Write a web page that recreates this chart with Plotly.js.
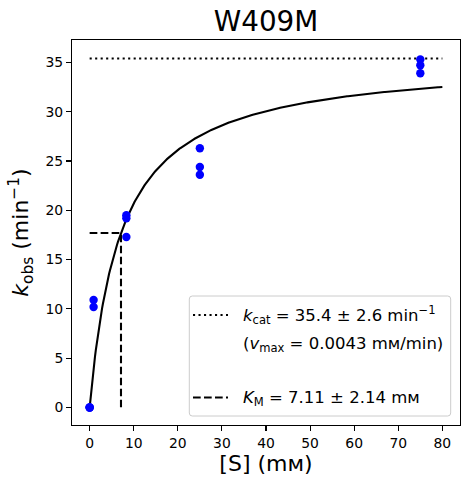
<!DOCTYPE html>
<html>
<head>
<meta charset="utf-8">
<script src="https://cdn.plot.ly/plotly-3.0.1.min.js"></script>
<style>html,body{margin:0;padding:0;background:#fff;}#chart{width:469px;height:484px;}</style>
</head>
<body>
<div id="chart"></div>
<script>
// ---- data ----
const substrate = [0, 0, 0, 0.9, 0.9, 8.33, 8.33, 8.33, 25, 25, 25, 75, 75, 75];
const kobs = [0, 0, 0, 10.9, 10.2, 19.5, 19.2, 17.3, 26.3, 24.4, 23.6, 35.3, 34.7, 33.9];
const kcat = 35.4;
const KM = 7.11;
const xTicks = [0, 10, 20, 30, 40, 50, 60, 70, 80];
const yTicks = [0, 5, 10, 15, 20, 25, 30, 35];
const legendLabels = [
  "<i>k</i><sub>cat</sub> = 35.4 ± 2.6 min<sup>−1</sup>",
  "(<i>v</i><sub>max</sub> = 0.0043 mᴍ/min)",
  "<i>K</i><sub>M</sub> = 7.11 ± 2.14 mᴍ"
];

// Michaelis–Menten fit curve from the fitted parameters
const fitS = [];
const fitK = [];
for (let i = 0; i <= 400; i++) {
  const s = 80 * i / 400;
  fitS.push(s);
  fitK.push(kcat * s / (KM + s));
}

const W = 469, H = 484;
const ml = 72, mr = 9, mt = 40, mb = 59;
const pw = W - ml - mr, ph = H - mt - mb;
const px = x => (x - ml) / pw;
const py = y => 1 - (y - mt) / ph;

const font = "DejaVu Sans, sans-serif";
const lw = 2.08;
const dotDash = "2.1px,3.4px";
const dashDash = "7.7px,3.3px";

const traces = [
  {x: fitS, y: fitK, mode: "lines", line: {color: "black", width: lw}, hoverinfo: "skip"},
  {x: [0, 80], y: [kcat, kcat], mode: "lines", line: {color: "black", width: lw, dash: dotDash}},
  {x: [0, KM, KM], y: [kcat / 2, kcat / 2, 0], mode: "lines", line: {color: "black", width: lw, dash: dashDash}},
  {x: substrate, y: kobs, mode: "markers", marker: {color: "#0000ff", size: 8.4}}
];

// custom legend (matplotlib style)
const bx0 = px(189.3), bx1 = px(450.7), by0 = py(416), by1 = py(296);
const rx = 3 / pw, ry = 3 / ph;
const boxPath = `M ${bx0 + rx},${by1} L ${bx1 - rx},${by1} Q ${bx1},${by1} ${bx1},${by1 - ry} L ${bx1},${by0 + ry} Q ${bx1},${by0} ${bx1 - rx},${by0} L ${bx0 + rx},${by0} Q ${bx0},${by0} ${bx0},${by0 + ry} L ${bx0},${by1 - ry} Q ${bx0},${by1} ${bx0 + rx},${by1} Z`;

const shapes = [
  {type: "path", xref: "paper", yref: "paper", path: boxPath,
   fillcolor: "rgba(255,255,255,0.8)", line: {color: "#cccccc", width: 1}},
  {type: "line", xref: "paper", yref: "paper", x0: px(193), x1: px(228), y0: py(315), y1: py(315),
   line: {color: "black", width: lw, dash: dotDash}},
  {type: "line", xref: "paper", yref: "paper", x0: px(193), x1: px(228), y0: py(397.5), y1: py(397.5),
   line: {color: "black", width: lw, dash: dashDash}}
];

const rowsY = [315, 344, 398];
const annotations = legendLabels.map((t, i) => ({
  xref: "paper", yref: "paper", x: px(240.5), y: py(rowsY[i]),
  xanchor: "left", yanchor: "middle", showarrow: false, text: t,
  font: {family: font, size: 16.5, color: "black"}
}));

const layout = {
  width: W, height: H,
  margin: {l: ml, r: mr, t: mt, b: mb, pad: 0},
  paper_bgcolor: "white", plot_bgcolor: "white",
  showlegend: false,
  font: {family: font, color: "black"},
  title: {text: "W409M", font: {family: font, size: 27.8, color: "black"},
          x: 0.5 * (ml + (W - mr)) / W, xanchor: "center", xref: "container",
          y: 1 - 21 / H, yanchor: "middle", yref: "container"},
  xaxis: {
    range: [-4, 84], tickvals: xTicks, ticktext: xTicks.map(String),
    ticks: "outside", ticklen: 4.9, tickwidth: 1.1, tickcolor: "black",
    showline: true, linecolor: "black", linewidth: 1.1, mirror: true,
    showgrid: false, zeroline: false,
    tickfont: {family: font, size: 13.9, color: "black"},
    title: {text: "[S] (mᴍ)", font: {family: font, size: 22, color: "black"}, standoff: 5}
  },
  yaxis: {
    range: [-1.77, 37.27], tickvals: yTicks, ticktext: yTicks.map(String),
    ticks: "outside", ticklen: 4.9, tickwidth: 1.1, tickcolor: "black",
    showline: true, linecolor: "black", linewidth: 1.1, mirror: true,
    showgrid: false, zeroline: false,
    tickfont: {family: font, size: 13.9, color: "black"},
    title: {text: "<i>k</i><sub>obs</sub> (min<sup>−1</sup>)", font: {family: font, size: 22, color: "black"}, standoff: 10}
  },
  shapes: shapes,
  annotations: annotations
};

Plotly.newPlot("chart", traces, layout, {displayModeBar: false, staticPlot: true});
</script>
</body>
</html>
